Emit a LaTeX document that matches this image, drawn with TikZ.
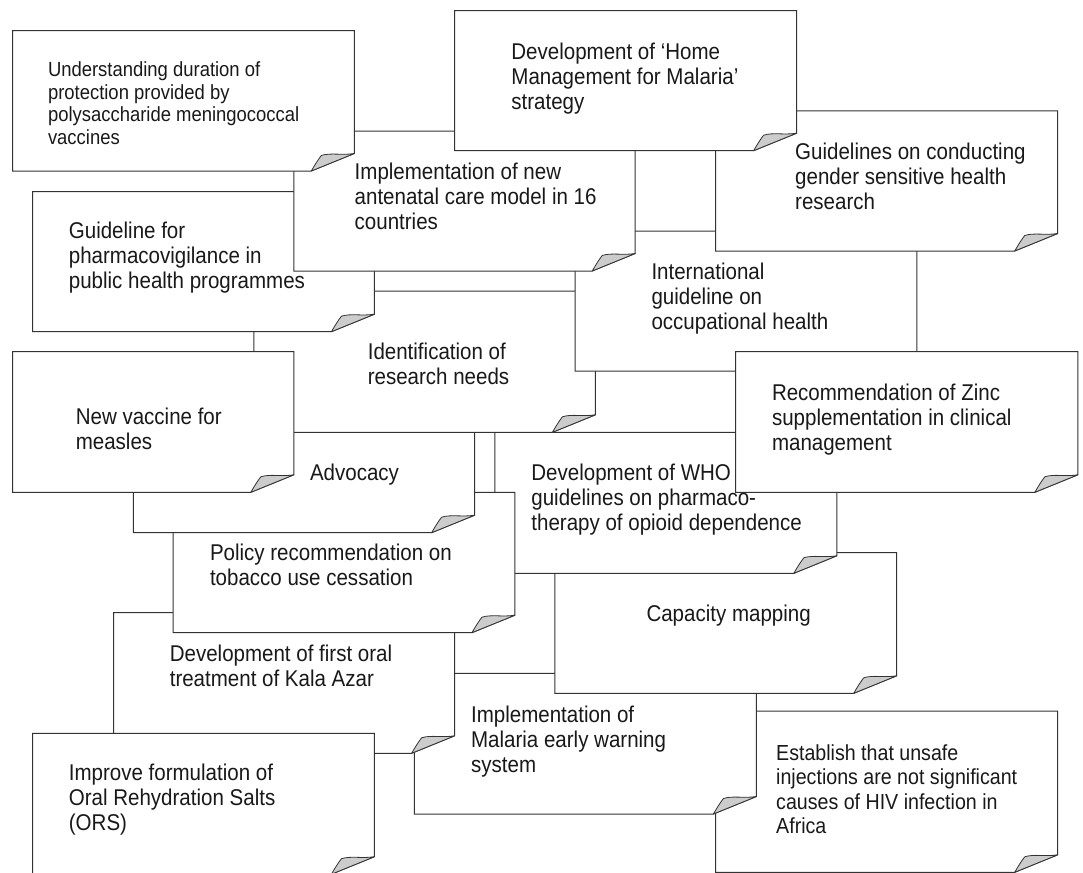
\documentclass[tikz,border=0pt]{standalone}
\usepackage{fontspec}
\setmainfont[FakeStretch=0.9]{Liberation Sans}
\tikzset{
  notebox/.style={draw=black!80, fill=white, line width=1pt},
  foldbox/.style={draw=black!80, fill=black!20, line width=0.8pt, line join=round},
  bigtext/.style={anchor=north west, inner sep=0pt, outer sep=0pt, align=left, text=black!90, font=\fontsize{22.8}{25}\selectfont},
  smalltext/.style={bigtext, font=\fontsize{20.5}{22.4}\selectfont},
  midtext/.style={bigtext, font=\fontsize{21.8}{24.3}\selectfont},
}
% #1 left, #2 top, #3 right, #4 bottom (y grows downward)
\newcommand\mynote[4]{%
  \path[notebox] (#1,#2) -- (#3,#2) -- (#3,#4-17.5) -- (#3-43,#4) -- (#1,#4) -- cycle;
  \path[foldbox] (#3-43,#4) .. controls (#3-39.5,#4-6) and (#3-36.5,#4-11) .. (#3-33,#4-15.5)
     .. controls (#3-24,#4-18.5) and (#3-12,#4-15.5) .. (#3,#4-17.5) -- cycle;
}
\begin{document}
\begin{tikzpicture}[x=1pt,y=-1pt]
\useasboundingbox (0,0) rectangle (1083,872);
\clip (0,0) rectangle (1083,872);
\fill[white] (0,0) rectangle (1083,872);

% Establish
\mynote{715.6}{711}{1057.7}{872.3}
\node[midtext] (t16) at (776.2,743.6) {\strut Establish that unsafe\\injections are not significant\\causes of HIV infection in\\Africa};
% Malaria early warning
\mynote{414.3}{673.3}{756.4}{814}
\node[bigtext] (t15) at (471.1,705) {\strut Implementation of\\Malaria early warning\\system};
% Capacity mapping
\mynote{554.9}{552.7}{896.7}{693.3}
\node[bigtext] (t14) at (646.5,604.3) {\strut Capacity mapping};
% Kala Azar
\mynote{113.7}{612.7}{454.6}{753.3}
\node[bigtext] (t13) at (169.8,644) {\strut Development of first oral\\treatment of Kala Azar};
% ORS
\mynote{32.7}{733.3}{374.4}{874.2}
\node[bigtext] (t17) at (68.9,763.3) {\strut Improve formulation of\\Oral Rehydration Salts\\(ORS)};
% WHO guidelines
\mynote{494.9}{432.3}{836.8}{573.3}
\node[bigtext] (t11) at (531.4,463.3) {\strut Development of WHO\\guidelines on pharmaco-\\therapy of opioid dependence};
% tobacco
\mynote{173.2}{492.3}{514.9}{632.7}
\node[bigtext] (t12) at (210,543.3) {\strut Policy recommendation on\\tobacco use cessation};
% Advocacy
\mynote{133.3}{432.3}{474.6}{532.7}
\node[bigtext] (t10) at (310,463.3) {\strut Advocacy};
% Identification
\mynote{253.8}{291}{595.4}{432.3}
\node[bigtext] (t8) at (367.8,341.7) {\strut Identification of\\research needs};
% New vaccine
\mynote{12.7}{351.7}{293.8}{492.3}
\node[bigtext] (t9) at (75.8,406.7) {\strut New vaccine for\\measles};
% International guideline
\mynote{575}{231}{916.8}{371}
\node[bigtext] (t5) at (651.5,261.7) {\strut International\\guideline on\\occupational health};
% Zinc
\mynote{735.7}{351.7}{1077.8}{492.3}
\node[bigtext] (t6) at (772,383.3) {\strut Recommendation of Zinc\\supplementation in clinical\\management};
% Pharmacovigilance
\mynote{32.7}{191.7}{374.4}{331.7}
\node[bigtext] (t7) at (68.9,221) {\strut Guideline for\\pharmacovigilance in\\public health programmes};
% Gender
\mynote{715.6}{111}{1057.7}{251}
\node[bigtext] (t4) at (795.2,141.7) {\strut Guidelines on conducting\\gender sensitive health\\research};
% Antenatal
\mynote{293.8}{131}{635.2}{271}
\node[bigtext] (t3) at (354.7,161.7) {\strut Implementation of new\\antenatal care model in 16\\countries};
% Understanding
\mynote{12.7}{30.7}{354.3}{171}
\node[smalltext] (t1) at (48,61.25) {\strut Understanding duration of\\protection provided by\\polysaccharide meningococcal\\vaccines};
% Home management
\mynote{454.6}{10.7}{796.6}{150.7}
\node[bigtext] (t2) at (511.4,41.7) {\strut Development of ‘Home\\Management for Malaria’\\strategy};
\end{tikzpicture}
\end{document}
